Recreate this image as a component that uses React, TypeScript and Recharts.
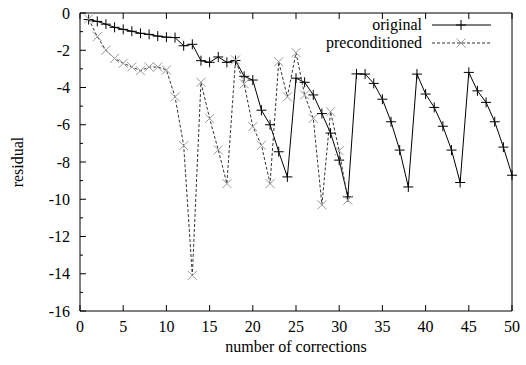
import { LineChart, Line, XAxis, YAxis, Legend } from 'recharts';

const corrections = [
  1, 2, 3, 4, 5, 6, 7, 8, 9, 10, 11, 12, 13, 14, 15, 16, 17, 18, 19, 20, 21, 22, 23, 24, 25,
  26, 27, 28, 29, 30, 31, 32, 33, 34, 35, 36, 37, 38, 39, 40, 41, 42, 43, 44, 45, 46, 47, 48, 49, 50,
];

const original = [
  -0.35, -0.45, -0.6, -0.77, -0.88, -0.98, -1.09, -1.15, -1.24, -1.3,
  -1.32, -1.76, -1.68, -2.56, -2.65, -2.36, -2.65, -2.55, -3.4, -3.6,
  -5.22, -6.0, -7.45, -8.8, -3.5, -3.72, -4.4, -5.4, -6.45, -7.9,
  -9.87, -3.27, -3.28, -3.78, -4.63, -5.84, -7.36, -9.34, -3.28, -4.35,
  -5.07, -6.08, -7.36, -9.1, -3.19, -4.18, -4.8, -5.84, -7.2, -8.71,
];

const preconditioned = [
  -0.32, -1.27, -2.0, -2.44, -2.7, -2.89, -3.1, -2.9, -2.9, -3.06,
  -4.5, -7.12, -14.09, -3.72, -5.66, -7.35, -9.16, -2.52, -3.8, -6.1,
  -7.1, -9.16, -2.62, -4.5, -2.13, -4.4, -5.66, -10.3, -5.3, -7.4,
  -10.05,
];

const xTicks = [0, 5, 10, 15, 20, 25, 30, 35, 40, 45, 50];
const yTicks = [-16, -15, -14, -13, -12, -11, -10, -9, -8, -7, -6, -5, -4, -3, -2, -1, 0];

const data = corrections.map((n, i) => ({
  n,
  original: original[i],
  preconditioned: i < preconditioned.length ? preconditioned[i] : null,
}));

const txt = { fontFamily: "'Liberation Serif', 'DejaVu Serif', serif", fontSize: 16 };

const plus = (cx: number, cy: number) => `M${cx - 5},${cy}H${cx + 5}M${cx},${cy - 5}V${cy + 5}`;
const cross = (cx: number, cy: number) =>
  `M${cx - 4.5},${cy - 4.5}L${cx + 4.5},${cy + 4.5}M${cx - 4.5},${cy + 4.5}L${cx + 4.5},${cy - 4.5}`;

const PlusDot = (props: any) => {
  const { cx, cy, index } = props;
  if (cx == null || cy == null) return <g key={`p-${index}`} />;
  return <path key={`p-${index}`} d={plus(cx, cy)} stroke="#000" strokeWidth={1} fill="none" />;
};

const CrossDot = (props: any) => {
  const { cx, cy, index, value } = props;
  if (cx == null || cy == null || value == null) return <g key={`c-${index}`} />;
  return <path key={`c-${index}`} d={cross(cx, cy)} stroke="#9a9a9a" strokeWidth={1} fill="none" />;
};

const BottomTick = ({ x, y, payload }: any) => (
  <g>
    <line x1={x} x2={x} y1={y} y2={y - 6} stroke="#000" />
    <text x={x} y={y + 21} textAnchor="middle" style={txt} fill="#000">
      {payload.value}
    </text>
  </g>
);

const TopTick = ({ x, y }: any) => <line x1={x} x2={x} y1={y} y2={y + 6} stroke="#000" />;

const LeftTick = ({ x, y, payload }: any) => {
  const major = payload.value % 2 === 0;
  return (
    <g>
      <line x1={x} x2={x + (major ? 6 : 3)} y1={y} y2={y} stroke="#000" />
      {major && (
        <text x={x - 10} y={y + 5.5} textAnchor="end" style={txt} fill="#000">
          {payload.value}
        </text>
      )}
    </g>
  );
};

const RightTick = ({ x, y, payload }: any) => {
  const major = payload.value % 2 === 0;
  return <line x1={x} x2={x - (major ? 6 : 3)} y1={y} y2={y} stroke="#000" />;
};

const LegendBox = () => (
  <svg width={220} height={40} style={{ display: 'block' }}>
    <text x={132} y={16} textAnchor="end" style={txt} fill="#000">original</text>
    <text x={132} y={34} textAnchor="end" style={txt} fill="#000">preconditioned</text>
    <line x1={142} x2={201} y1={11} y2={11} stroke="#000" />
    <path d={plus(171, 11)} stroke="#000" fill="none" />
    <line x1={142} x2={201} y1={29} y2={29} stroke="#333" strokeDasharray="3 2" />
    <path d={cross(171, 29)} stroke="#9a9a9a" fill="none" />
  </svg>
);

export default function App() {
  return (
    <div style={{ position: 'absolute', left: 0, top: 0, background: '#fff' }}>
      <LineChart width={526} height={365} data={data} margin={{ top: 12, right: 13, bottom: 0, left: 0 }}>
        <XAxis
          xAxisId="bottom"
          type="number"
          dataKey="n"
          domain={[0, 50]}
          ticks={xTicks}
          height={54}
          tickSize={0}
          tickMargin={0}
          tickLine={false}
          axisLine={{ stroke: '#000' }}
          tick={<BottomTick />}
          label={{
            content: () => (
              <text x={296} y={352} textAnchor="middle" style={txt} fill="#000">
                number of corrections
              </text>
            ),
          }}
        />
        <XAxis
          xAxisId="top"
          orientation="top"
          type="number"
          dataKey="n"
          domain={[0, 50]}
          ticks={xTicks}
          height={1}
          tickSize={0}
          tickMargin={0}
          tickLine={false}
          axisLine={{ stroke: '#000' }}
          tick={<TopTick />}
        />
        <YAxis
          yAxisId="left"
          type="number"
          domain={[-16, 0]}
          ticks={yTicks}
          interval={0}
          width={80}
          tickSize={0}
          tickMargin={0}
          tickLine={false}
          axisLine={{ stroke: '#000' }}
          tick={<LeftTick />}
          label={{
            content: () => (
              <text
                x={17}
                y={162}
                transform="rotate(-90 17 162)"
                textAnchor="middle"
                dominantBaseline="central"
                style={txt}
                fill="#000"
              >
                residual
              </text>
            ),
          }}
        />
        <YAxis
          yAxisId="right"
          orientation="right"
          type="number"
          domain={[-16, 0]}
          ticks={yTicks}
          interval={0}
          width={1}
          tickSize={0}
          tickMargin={0}
          tickLine={false}
          axisLine={{ stroke: '#000' }}
          tick={<RightTick />}
        />
        <Legend
          layout="horizontal"
          verticalAlign="middle"
          align="center"
          content={() => <LegendBox />}
          wrapperStyle={{ position: 'absolute', left: 290, top: 14, width: 220, height: 40 }}
        />
        <Line
          xAxisId="bottom"
          yAxisId="left"
          type="linear"
          dataKey="original"
          stroke="#000"
          strokeWidth={1}
          dot={PlusDot}
          activeDot={false}
          isAnimationActive={false}
        />
        <Line
          xAxisId="bottom"
          yAxisId="left"
          type="linear"
          dataKey="preconditioned"
          stroke="#333"
          strokeWidth={1}
          strokeDasharray="3 2"
          dot={CrossDot}
          activeDot={false}
          connectNulls={false}
          isAnimationActive={false}
        />
      </LineChart>
    </div>
  );
}
